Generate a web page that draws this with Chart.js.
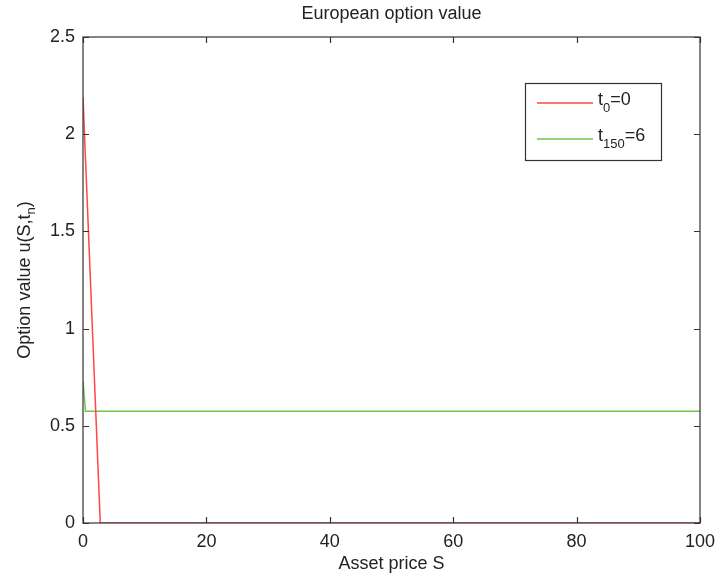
<!DOCTYPE html>
<html>
<head>
<meta charset="utf-8">
<script src="https://cdn.jsdelivr.net/npm/chart.js@4/dist/chart.umd.min.js"></script>
<style>
  html, body { margin: 0; padding: 0; background: #fff; }
  #wrap { width: 718px; height: 578px; }
</style>
</head>
<body>
<div id="wrap"><canvas id="optionChart" width="718" height="578"></canvas></div>
<script>
// data
var redS = [0, 2.8, 100];
var redU = [2.19, 0, 0];
var greenS = [0, 0.4, 100];
var greenU = [0.73, 0.575, 0.575];
var xTicks = [0, 20, 40, 60, 80, 100];
var yTicks = [0, 0.5, 1, 1.5, 2, 2.5];

var FONT = '"Liberation Sans", Arial, Helvetica, sans-serif';
var RED = 'rgb(255,70,70)';
var GREEN = 'rgb(115,195,75)';

function toPoints(xs, ys) {
    return xs.map(function (x, i) { return { x: x, y: ys[i] }; });
}

// main text + subscript + rest
function subText(ctx, x, y, main, sub, rest, size, subSize, drop) {
    ctx.font = size + 'px ' + FONT;
    ctx.fillText(main, x, y);
    x += ctx.measureText(main).width;
    ctx.font = subSize + 'px ' + FONT;
    ctx.fillText(sub, x, y + drop);
    x += ctx.measureText(sub).width;
    ctx.font = size + 'px ' + FONT;
    ctx.fillText(rest, x, y);
}

// box, inward ticks, title, y label and legend (matlab style)
var matlabBox = {
    id: 'matlabBox',
    afterDraw: function (chart) {
        var ctx = chart.ctx;
        var a = chart.chartArea;
        var sx = chart.scales.x, sy = chart.scales.y;
        ctx.save();
        ctx.strokeStyle = '#333';
        ctx.lineWidth = 1.2;
        ctx.strokeRect(a.left, a.top, a.right - a.left, a.bottom - a.top);
        ctx.beginPath();
        xTicks.forEach(function (v) {
            var px = Math.round(sx.getPixelForValue(v)) + 0.5;
            ctx.moveTo(px, a.bottom); ctx.lineTo(px, a.bottom - 6);
            ctx.moveTo(px, a.top); ctx.lineTo(px, a.top + 6);
        });
        yTicks.forEach(function (v) {
            var py = Math.round(sy.getPixelForValue(v)) + 0.5;
            ctx.moveTo(a.left, py); ctx.lineTo(a.left + 6, py);
            ctx.moveTo(a.right, py); ctx.lineTo(a.right - 6, py);
        });
        ctx.stroke();

        // title
        ctx.fillStyle = '#222';
        ctx.font = '18px ' + FONT;
        ctx.textAlign = 'center';
        ctx.textBaseline = 'middle';
        ctx.fillText('European option value', (a.left + a.right) / 2, 14);

        // y label with subscript n
        ctx.save();
        ctx.translate(25, (a.top + a.bottom) / 2);
        ctx.rotate(-Math.PI / 2);
        ctx.textAlign = 'left';
        ctx.font = '18px ' + FONT;
        var w = ctx.measureText('Option value u(S,t').width + ctx.measureText(')').width;
        ctx.font = '13px ' + FONT;
        w += ctx.measureText('n').width;
        subText(ctx, -w / 2, 0, 'Option value u(S,t', 'n', ')', 18, 13, 6);
        ctx.restore();

        // legend
        var lx = 525, ly = 83, lw = 136, lh = 77;
        ctx.fillStyle = '#fff';
        ctx.fillRect(lx, ly, lw, lh);
        ctx.strokeStyle = '#333';
        ctx.lineWidth = 1.2;
        ctx.strokeRect(lx + 0.5, ly + 0.5, lw, lh);
        var items = [
            { color: RED, sub: '0', rest: '=0', y: 103 },
            { color: GREEN, sub: '150', rest: '=6', y: 139 }
        ];
        items.forEach(function (it) {
            ctx.strokeStyle = it.color;
            ctx.lineWidth = 1.5;
            ctx.beginPath();
            ctx.moveTo(537, it.y); ctx.lineTo(593, it.y);
            ctx.stroke();
            ctx.fillStyle = '#222';
            ctx.textAlign = 'left';
            ctx.textBaseline = 'middle';
            subText(ctx, 598, it.y - 3, 't', it.sub, it.rest, 18, 13, 8);
        });
        ctx.restore();
    }
};

var ctxOption = document.getElementById('optionChart').getContext('2d');
var optionChart = new Chart(ctxOption, {
    type: 'scatter',
    data: {
        datasets: [{
            label: 't0=0',
            data: toPoints(redS, redU),
            showLine: true,
            borderColor: RED,
            borderWidth: 1.5,
            pointRadius: 0,
            tension: 0
        }, {
            label: 't150=6',
            data: toPoints(greenS, greenU),
            showLine: true,
            borderColor: GREEN,
            borderWidth: 1.5,
            pointRadius: 0,
            tension: 0
        }]
    },
    options: {
        responsive: false,
        animation: false,
        layout: { padding: { left: 0, right: 18, top: 37, bottom: 0 } },
        plugins: {
            legend: { display: false },
            tooltip: { enabled: false }
        },
        scales: {
            x: {
                type: 'linear',
                min: 0,
                max: 100,
                afterBuildTicks: function (s) { s.ticks = xTicks.map(function (v) { return { value: v }; }); },
                afterFit: function (s) { s.height = 55; s.paddingLeft = 0; s.paddingRight = 0; },
                grid: { display: false, drawTicks: false },
                border: { display: false },
                ticks: { color: '#222', font: { family: FONT, size: 18 }, padding: 8, maxRotation: 0 },
                title: { display: true, text: 'Asset price S', color: '#222', font: { family: FONT, size: 18 }, padding: { top: 0, bottom: 3 } }
            },
            y: {
                type: 'linear',
                min: 0,
                max: 2.5,
                afterBuildTicks: function (s) { s.ticks = yTicks.map(function (v) { return { value: v }; }); },
                afterFit: function (s) { s.width = 83; s.paddingTop = 0; s.paddingBottom = 0; },
                grid: { display: false, drawTicks: false },
                border: { display: false },
                ticks: {
                    color: '#222',
                    font: { family: FONT, size: 18 },
                    padding: 8,
                    callback: function (v) { return String(v); }
                }
            }
        }
    },
    plugins: [matlabBox]
});
</script>
</body>
</html>
